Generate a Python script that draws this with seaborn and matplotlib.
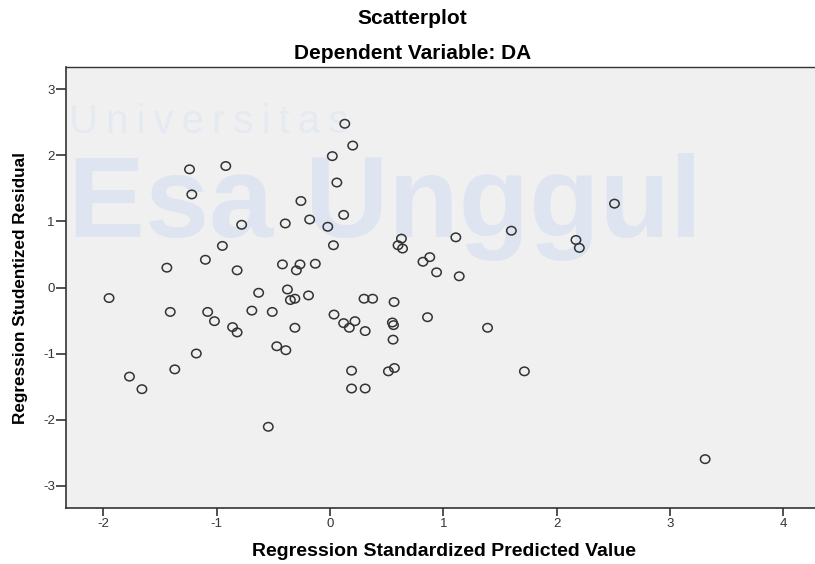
import numpy as np
import pandas as pd
import matplotlib
matplotlib.use('Agg')
import matplotlib.pyplot as plt
from matplotlib.path import Path
import seaborn as sns

pred_std = [-1.95, -1.77, -1.66, -1.44, -1.41, -1.37, -1.24, -1.22, -1.18, -1.10,
            -1.08, -1.02, -0.95, -0.92, -0.86, -0.82, -0.82, -0.78, -0.69, -0.63,
            -0.545, -0.51, -0.47, -0.42, -0.39, -0.395, -0.376, -0.35, -0.31, -0.31,
            -0.265, -0.297, -0.257, -0.19, -0.18, -0.13, -0.02, 0.02, 0.03, 0.035,
            0.06, 0.12, 0.12, 0.13, 0.17, 0.19, 0.19, 0.20, 0.22, 0.30,
            0.31, 0.31, 0.376, 0.515, 0.55, 0.56, 0.556, 0.565, 0.568, 0.60,
            0.63, 0.64, 0.82, 0.86, 0.88, 0.94, 1.11, 1.14, 1.39, 1.60,
            1.715, 2.17, 2.20, 2.51, 3.31]
resid_stud = [-0.16, -1.35, -1.54, 0.30, -0.37, -1.24, 1.79, 1.41, -1.00, 0.42,
              -0.37, -0.51, 0.63, 1.84, -0.60, -0.68, 0.26, 0.95, -0.35, -0.08,
              -2.11, -0.37, -0.89, 0.35, -0.95, 0.97, -0.03, -0.19, -0.17, -0.61,
              0.35, 0.26, 1.31, -0.12, 1.03, 0.36, 0.92, 1.99, 0.64, -0.41,
              1.59, 1.10, -0.54, 2.48, -0.61, -1.26, -1.53, 2.15, -0.51, -0.17,
              -0.66, -1.53, -0.17, -1.27, -0.53, -0.57, -0.79, -0.22, -1.22, 0.64,
              0.74, 0.59, 0.39, -0.45, 0.46, 0.23, 0.76, 0.17, -0.61, 0.86,
              -1.27, 0.72, 0.60, 1.27, -2.60]
x_ticks = [-2, -1, 0, 1, 2, 3, 4]
y_ticks = [-3, -2, -1, 0, 1, 2, 3]

df = pd.DataFrame({'pred': pred_std, 'resid': resid_stud})

sns.set_style('ticks')
plt.rcParams['font.family'] = ['Liberation Sans', 'DejaVu Sans']
plt.rcParams['axes.unicode_minus'] = False

fig = plt.figure(figsize=(8.15, 5.64), dpi=100)
fig.patch.set_facecolor('white')
ax = fig.add_axes([66/815, 56/564, 757/815, 441/564])
ax.set_facecolor('#f0f0f0')

# faint watermark behind the points
ax.text(-2.3, 2.5, '\u2009'.join('Universitas'), fontsize=29, color='#e5eaf2',
        ha='left', va='center', zorder=0)
ax.text(-2.31, 0.76, 'Esa Unggul', fontsize=83, color='#dee5f0',
        fontweight='bold', ha='left', va='baseline', zorder=0)

# slightly flattened hollow circle like the SPSS marker
circ = Path.unit_circle()
oval = Path(circ.vertices * np.array([1.0, 0.9]), circ.codes)

sns.scatterplot(data=df, x='pred', y='resid', ax=ax, marker=oval, s=46,
                facecolor='none', edgecolor='#333333', linewidth=1.1, zorder=3)

ax.set_xlim(-2.33, 4.35)
ax.set_ylim(-3.34, 3.34)
ax.set_xticks(x_ticks)
ax.set_yticks(y_ticks)
ax.tick_params(axis='both', direction='out', width=1.2, color='#333333',
               labelsize=9.5, labelcolor='#333333')
ax.tick_params(axis='x', length=6, pad=1.5)
ax.tick_params(axis='y', length=7.5, pad=0.5)
for side in ['left', 'bottom', 'top', 'right']:
    ax.spines[side].set_color('#333333')
    ax.spines[side].set_linewidth(1.0)
ax.spines['left'].set_linewidth(1.2)
ax.spines['bottom'].set_linewidth(1.2)

ax.set_xlabel('Regression Standardized Predicted Value', fontsize=14,
              fontweight='bold', color='black', va='baseline')
ax.xaxis.set_label_coords(0.5, (508 - 556) / 441)
ax.set_ylabel('Regression Studentized Residual', fontsize=12.3,
              fontweight='bold', color='black', va='baseline')
ax.yaxis.set_label_coords((25 - 66) / 757, 0.5)

fig.text(412/815, 1 - 24/564, 'Scatterplot', ha='center', va='baseline',
         fontsize=15, fontweight='bold', color='black')
fig.text(413/815, 1 - 59/564, 'Dependent Variable: DA', ha='center', va='baseline',
         fontsize=15, fontweight='bold', color='black')

fig.savefig('out.png', dpi=100)
